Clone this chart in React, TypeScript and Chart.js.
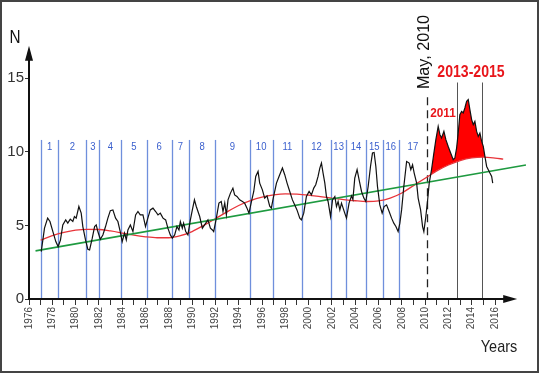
import React, { useEffect, useRef } from "react";
import { Chart, registerables } from "chart.js";

Chart.register(...registerables);

// ---------- data ----------
const X_TICK_YEARS = [
  1976, 1977, 1978, 1979, 1980, 1981, 1982, 1983, 1984, 1985, 1986, 1987, 1988, 1989,
  1990, 1991, 1992, 1993, 1994, 1995, 1996, 1997, 1998, 1999, 2000, 2001, 2002, 2003,
  2004, 2005, 2006, 2007, 2008, 2009, 2010, 2011, 2012, 2013, 2014, 2015, 2016,
];
const X_LABEL_YEARS = [
  1976, 1978, 1980, 1982, 1984, 1986, 1988, 1990, 1992, 1994, 1996, 1998, 2000, 2002,
  2004, 2006, 2008, 2010, 2012, 2014, 2016,
];
const Y_TICKS = [0, 5, 10, 15];

const BLACK_YEARS = [
  1977.05, 1977.33, 1977.6, 1977.8, 1978.05, 1978.3, 1978.5, 1978.7, 1978.9, 1979.15,
  1979.33, 1979.54, 1979.76, 1979.9, 1980.05, 1980.28, 1980.48, 1980.62, 1980.85, 1981.05,
  1981.2, 1981.43, 1981.63, 1981.77, 1981.91, 1982.12, 1982.34, 1982.57, 1982.77, 1982.98,
  1983.2, 1983.43, 1983.63, 1983.83, 1984.0, 1984.2, 1984.35, 1984.49, 1984.7, 1984.92,
  1985.15, 1985.35, 1985.55, 1985.78, 1986.0, 1986.2, 1986.41, 1986.64, 1986.87, 1987.07,
  1987.27, 1987.5, 1987.73, 1987.92, 1988.13, 1988.3, 1988.5, 1988.7, 1988.87, 1988.99,
  1989.16, 1989.27, 1989.45, 1989.64, 1989.85, 1990.02, 1990.2, 1990.35, 1990.65, 1990.88,
  1991.07, 1991.36, 1991.57, 1991.74, 1991.85, 1992.08, 1992.3, 1992.5, 1992.65, 1992.8,
  1992.94, 1993.08, 1993.29, 1993.5, 1993.65, 1993.85, 1994.08, 1994.32, 1994.51, 1994.71,
  1994.88, 1995.09, 1995.29, 1995.46, 1995.66, 1995.8, 1996.03, 1996.23, 1996.43, 1996.66,
  1996.8, 1996.95, 1997.24, 1997.46, 1997.75, 1997.95, 1998.15, 1998.38, 1998.61, 1998.81,
  1999.0, 1999.24, 1999.38, 1999.58, 1999.81, 2000.04, 2000.24, 2000.44, 2000.61, 2000.81,
  2000.96, 2001.1, 2001.24, 2001.39, 2001.53, 2001.67, 2001.88, 2002.05, 2002.25, 2002.39,
  2002.53, 2002.68, 2002.82, 2002.96, 2003.1, 2003.25, 2003.47, 2003.68, 2003.8, 2003.96,
  2004.16, 2004.33, 2004.54, 2004.74, 2004.91, 2005.11, 2005.31, 2005.48, 2005.62, 2005.77,
  2005.91, 2006.11, 2006.31, 2006.48, 2006.69, 2006.91, 2007.12, 2007.31, 2007.49, 2007.68,
  2007.83, 2007.98, 2008.17, 2008.41, 2008.63, 2008.77, 2008.92, 2009.06, 2009.27, 2009.4,
  2009.61, 2009.78, 2009.89, 2010.06, 2010.2, 2010.35, 2010.55, 2010.75, 2010.92, 2011.12,
  2011.27, 2011.41, 2011.61, 2011.78, 2011.98, 2012.19, 2012.41, 2012.55, 2012.7, 2012.84,
  2012.98, 2013.13, 2013.27, 2013.41, 2013.56, 2013.7, 2013.84, 2013.99, 2014.13, 2014.27,
  2014.42, 2014.56, 2014.7, 2014.85, 2014.99, 2015.13, 2015.28, 2015.42, 2015.56, 2015.71,
  2015.8,
];
const BLACK_VALUES = [
  3.22, 4.81, 5.49, 5.26, 4.58, 3.9, 3.56, 4.0, 5.03, 5.37,
  5.15, 5.42, 5.26, 5.6, 5.49, 6.28, 5.83, 4.92, 4.01, 3.38,
  3.33, 4.13, 4.92, 5.03, 4.58, 4.06, 4.35, 4.92, 5.49, 6.0,
  6.05, 5.49, 5.26, 4.58, 3.9, 4.47, 4.01, 4.69, 5.03, 4.58,
  5.71, 5.94, 5.71, 5.71, 4.92, 5.49, 6.05, 6.17, 5.94, 5.71,
  5.83, 5.49, 5.37, 4.81, 4.35, 4.13, 4.35, 4.92, 4.69, 5.26,
  4.81, 5.15, 4.58, 4.35, 5.37, 6.05, 6.73, 6.3, 5.6, 4.81,
  5.03, 5.37, 4.81, 4.69, 4.58, 5.49, 6.51, 6.62, 5.94, 6.51,
  5.71, 6.73, 7.19, 7.53, 7.07, 6.96, 6.73, 6.62, 6.51, 6.17,
  5.83, 6.62, 7.3, 8.32, 8.66, 7.87, 7.41, 6.85, 7.0, 6.3,
  6.17, 6.8, 7.87, 8.32, 8.89, 8.44, 7.87, 7.3, 6.73, 6.39,
  6.05, 5.49, 5.37, 5.83, 6.96, 7.3, 7.07, 7.53, 7.76, 8.32,
  8.89, 9.23, 8.55, 7.87, 6.96, 6.62, 5.6, 6.73, 6.96, 6.28,
  6.62, 6.05, 6.51, 6.17, 5.83, 5.49, 6.51, 7.0, 6.75, 8.21,
  8.78, 8.1, 7.3, 6.85, 6.62, 7.64, 9.0, 9.91, 9.95, 9.0,
  7.64, 6.39, 5.83, 6.28, 6.39, 5.94, 5.49, 5.15, 4.92, 4.58,
  5.15, 6.05, 7.64, 9.34, 9.23, 8.78, 9.12, 8.55, 7.87, 6.85,
  6.05, 4.92, 4.58, 5.6, 6.6, 7.87, 8.78, 9.91, 10.82, 11.72,
  11.16, 10.93, 11.38, 10.82, 10.36, 9.91, 9.46, 9.57, 10.25, 11.27,
  12.52, 12.74, 12.63, 12.97, 13.42, 13.54, 12.86, 12.18, 11.84, 12.06,
  11.38, 11.04, 11.27, 10.7, 10.36, 9.68, 9.0, 8.78, 8.55, 8.32,
  7.87,
];

const RED_YEARS = [
  1977, 1978, 1979, 1980, 1981, 1982, 1983, 1984, 1985, 1986, 1987, 1988, 1989, 1990,
  1991, 1992, 1993, 1994, 1995, 1996, 1997, 1998, 1999, 2000, 2001, 2002, 2003, 2004,
  2005, 2006, 2007, 2008, 2009, 2010, 2011, 2012, 2013, 2014, 2015, 2016, 2016.7,
];
const RED_VALUES = [
  4.0, 4.3, 4.52, 4.67, 4.73, 4.72, 4.62, 4.48, 4.33, 4.22, 4.16, 4.16, 4.3, 4.58,
  5.0, 5.45, 5.92, 6.35, 6.68, 6.92, 7.07, 7.14, 7.12, 7.05, 6.95, 6.85, 6.75, 6.67,
  6.62, 6.66, 6.85, 7.2, 7.7, 8.2, 8.7, 9.1, 9.4, 9.58, 9.63, 9.57, 9.5,
];

const GREEN_YEARS = [1976.56, 2018.65];
const GREEN_VALUES = [3.27, 9.1];

const FILL_START = 2010.2;
const FILL_END = 2015.28;

const SEGMENT_BOUNDS = [
  1977.0, 1978.53, 1980.9, 1982.05, 1983.9, 1986.1, 1988.25, 1989.75, 1991.95, 1994.95,
  1996.9, 1999.45, 2001.9, 2003.25, 2004.9, 2006.35, 2007.75,
];
const SEGMENT_LABELS = [
  "1", "2", "3", "4", "5", "6", "7", "8", "9", "10", "11", "12", "13", "14", "15", "16", "17",
];
const MAY_2010 = 2010.15;
const PERIOD_BOUNDS = [2012.7, 2014.85];
const X_ARROW_END = 2017.9;
const Y_ARROW_END = 17.2;

// ---------- helpers ----------
const pts = (xs: number[], ys: number[]) => xs.map((x, i) => ({ x, y: ys[i] }));

function drawText(
  ctx: CanvasRenderingContext2D,
  s: string,
  x: number,
  y: number,
  font: string,
  color: string,
  sx = 1,
  rot = 0,
  align: CanvasTextAlign = "center"
) {
  ctx.save();
  ctx.translate(x, y);
  ctx.rotate(rot);
  ctx.scale(sx, 1);
  ctx.font = font;
  ctx.fillStyle = color;
  ctx.textAlign = align;
  ctx.textBaseline = "middle";
  ctx.fillText(s, 0, 0);
  ctx.restore();
}

const decorPlugin = {
  id: "decor",
  beforeDatasetsDraw(chart: any) {
    const { ctx, scales } = chart;
    const xs = scales.x;
    const ys = scales.y;
    const bottom = ys.getPixelForValue(0);
    ctx.save();
    // blue segment lines
    ctx.strokeStyle = "#6f8fdc";
    ctx.lineWidth = 1.3;
    const segTop = ys.getPixelForValue(10.8);
    SEGMENT_BOUNDS.forEach((yr) => {
      const px = Math.round(xs.getPixelForValue(yr)) + 0.5;
      ctx.beginPath();
      ctx.moveTo(px, segTop);
      ctx.lineTo(px, bottom);
      ctx.stroke();
    });
    // dashed May 2010
    const dx = Math.round(xs.getPixelForValue(MAY_2010)) + 0.5;
    ctx.strokeStyle = "#222";
    ctx.lineWidth = 1.3;
    ctx.setLineDash([8, 5]);
    ctx.beginPath();
    ctx.moveTo(dx, ys.getPixelForValue(13.7));
    ctx.lineTo(dx, bottom);
    ctx.stroke();
    ctx.setLineDash([]);
    // period lines
    ctx.strokeStyle = "#555";
    ctx.lineWidth = 1;
    PERIOD_BOUNDS.forEach((yr) => {
      const px = Math.round(xs.getPixelForValue(yr)) + 0.5;
      ctx.beginPath();
      ctx.moveTo(px, ys.getPixelForValue(14.7));
      ctx.lineTo(px, bottom);
      ctx.stroke();
    });
    ctx.restore();
  },
  afterDraw(chart: any) {
    const { ctx, scales } = chart;
    const xs = scales.x;
    const ys = scales.y;
    const x0 = xs.getPixelForValue(1976);
    const y0 = ys.getPixelForValue(0);
    ctx.save();
    // axes
    ctx.strokeStyle = "#111";
    ctx.fillStyle = "#111";
    ctx.lineWidth = 2;
    const xEnd = xs.getPixelForValue(X_ARROW_END);
    const yEnd = ys.getPixelForValue(Y_ARROW_END);
    ctx.beginPath();
    ctx.moveTo(x0, y0);
    ctx.lineTo(xEnd - 10, y0);
    ctx.stroke();
    ctx.beginPath();
    ctx.moveTo(xEnd, y0);
    ctx.lineTo(xEnd - 14, y0 - 4);
    ctx.lineTo(xEnd - 14, y0 + 4);
    ctx.closePath();
    ctx.fill();
    ctx.beginPath();
    ctx.moveTo(x0, y0 + 1);
    ctx.lineTo(x0, yEnd + 10);
    ctx.stroke();
    ctx.beginPath();
    ctx.moveTo(x0, yEnd);
    ctx.lineTo(x0 - 4, yEnd + 15);
    ctx.lineTo(x0 + 4, yEnd + 15);
    ctx.closePath();
    ctx.fill();

    // segment numbers
    const numY = ys.getPixelForValue(10.3);
    const bounds = [...SEGMENT_BOUNDS, MAY_2010];
    SEGMENT_LABELS.forEach((lab, i) => {
      const cx = (xs.getPixelForValue(bounds[i]) + xs.getPixelForValue(bounds[i + 1])) / 2;
      drawText(ctx, lab, cx, numY, "10px 'Liberation Sans', Arial, sans-serif", "#3a5fcd", 0.95);
    });

    // annotations
    const dx = xs.getPixelForValue(MAY_2010);
    drawText(ctx, "May, 2010", dx - 3, 52, "17px 'Liberation Sans', Arial, sans-serif", "#111", 0.95, -Math.PI / 2);
    drawText(ctx, "2013-2015", 471, 73, "bold 16px 'Liberation Sans', Arial, sans-serif", "#e8161b", 0.88);
    drawText(ctx, "2011", 443, 114, "bold 12px 'Liberation Sans', Arial, sans-serif", "#e8161b", 0.98);

    // axis titles
    drawText(ctx, "N", 15, 38, "18px 'Liberation Sans', Arial, sans-serif", "#111", 0.85);
    drawText(ctx, "Years", 499, 347, "17px 'Liberation Sans', Arial, sans-serif", "#222", 0.85);

    // frame
    ctx.strokeStyle = "#444";
    ctx.lineWidth = 2;
    ctx.strokeRect(1, 1, 537, 371);
    ctx.restore();
  },
};

export default function App() {
  const ref = useRef<HTMLCanvasElement | null>(null);

  useEffect(() => {
    if (!ref.current) return;
    const black = pts(BLACK_YEARS, BLACK_VALUES);
    const fillPts = black.filter((p) => p.x >= FILL_START && p.x <= FILL_END);
    const chart = new Chart(ref.current, {
      type: "line",
      data: {
        datasets: [
          {
            label: "excess",
            data: fillPts,
            borderWidth: 0,
            borderColor: "rgba(0,0,0,0)",
            pointRadius: 0,
            tension: 0,
            fill: { target: 1, above: "#ff0000", below: "rgba(0,0,0,0)" },
            order: 5,
          },
          {
            label: "trend",
            data: pts(RED_YEARS, RED_VALUES),
            borderColor: "#e8343a",
            borderWidth: 1.3,
            pointRadius: 0,
            cubicInterpolationMode: "monotone",
            fill: false,
            order: 3,
          },
          {
            label: "linear",
            data: pts(GREEN_YEARS, GREEN_VALUES),
            borderColor: "#1e9a40",
            borderWidth: 1.6,
            pointRadius: 0,
            fill: false,
            order: 2,
          },
          {
            label: "N",
            data: black,
            borderColor: "#111",
            borderWidth: 1.2,
            pointRadius: 0,
            tension: 0,
            fill: false,
            order: 1,
          },
        ],
      },
      options: {
        animation: false,
        responsive: false,
        devicePixelRatio: 1,
        layout: { padding: { top: 56, right: 10, left: 0, bottom: 0 } },
        plugins: { legend: { display: false }, tooltip: { enabled: false } },
        scales: {
          x: {
            type: "linear",
            min: 1976,
            max: 2019,
            afterFit: (s: any) => {
              s.height = 76;
            },
            afterBuildTicks: (s: any) => {
              s.ticks = X_TICK_YEARS.map((v) => ({ value: v }));
            },
            border: { display: false },
            grid: { drawOnChartArea: false, drawTicks: true, tickLength: 6, color: "#333", lineWidth: 1 },
            ticks: {
              autoSkip: false,
              minRotation: 90,
              maxRotation: 90,
              padding: 2,
              color: "#444",
              font: { family: "'Liberation Sans', Arial, sans-serif", size: 10 },
              callback: (v: any) => (X_LABEL_YEARS.includes(Number(v)) ? String(v) : ""),
            },
          },
          y: {
            type: "linear",
            min: 0,
            max: 16.5,
            afterFit: (s: any) => {
              s.width = 29;
            },
            afterBuildTicks: (s: any) => {
              s.ticks = Y_TICKS.map((v) => ({ value: v }));
            },
            border: { display: false },
            grid: { drawOnChartArea: false, drawTicks: true, tickLength: 4, color: "#333" },
            ticks: {
              padding: 1,
              color: "#333",
              font: { family: "'Liberation Sans Narrow', 'Liberation Sans', Arial, sans-serif", size: 15 },
              callback: (v: any) => String(v),
            },
          },
        },
      },
      plugins: [decorPlugin],
    } as any);
    return () => chart.destroy();
  }, []);

  return (
    <div style={{ position: "fixed", left: 0, top: 0, width: 540, height: 375, background: "#fff" }}>
      <canvas ref={ref} width={540} height={375} style={{ display: "block" }} />
    </div>
  );
}
